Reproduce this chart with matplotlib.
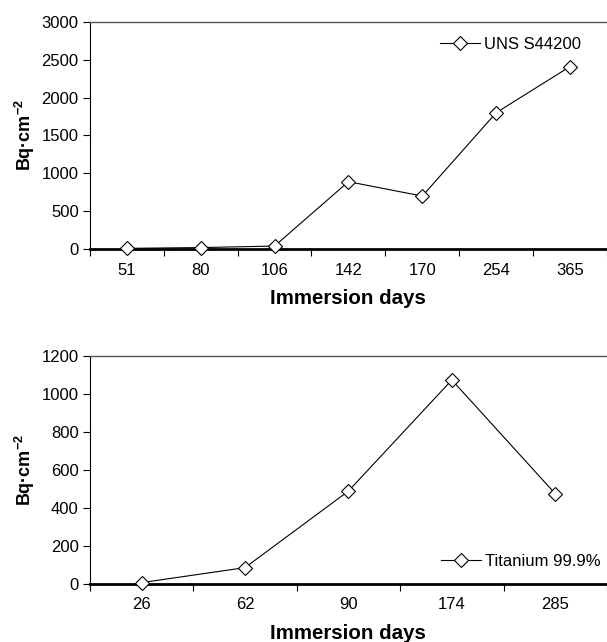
import numpy as np
import matplotlib
matplotlib.use("Agg")
import matplotlib.pyplot as plt

plt.rcParams['font.family'] = ['Liberation Sans', 'DejaVu Sans']
plt.rcParams['mathtext.fontset'] = 'custom'
plt.rcParams['mathtext.rm'] = 'Liberation Sans:bold'
plt.rcParams['mathtext.it'] = 'Liberation Sans:bold'
plt.rcParams['mathtext.bf'] = 'Liberation Sans:bold'

# data
days_steel = ["51", "80", "106", "142", "170", "254", "365"]
bq_steel = [10, 20, 40, 890, 700, 1800, 2410]
days_ti = ["26", "62", "90", "174", "285"]
bq_ti = [5, 84, 487, 1072, 473]


def draw_panel(ax, cats, vals, label, ymax, ystep, legend_loc, anchor):
    x = np.arange(len(cats))
    ax.plot(x, vals, color='black', linewidth=0.8, marker='D', markersize=7,
            markerfacecolor='white', markeredgecolor='black', markeredgewidth=0.8,
            label=label, clip_on=False, zorder=3)
    ax.set_xlim(-0.5, len(cats) - 0.5)
    ax.set_ylim(0, ymax)
    ax.set_yticks(np.arange(0, ymax + 1, ystep))
    ax.set_xticks(x)
    ax.set_xticklabels(cats)
    ax.set_xticks(np.arange(len(cats) + 1) - 0.5, minor=True)
    ax.tick_params(axis='x', which='major', length=0, pad=10, labelsize=12)
    ax.tick_params(axis='x', which='minor', length=5, width=0.8, direction='out')
    ax.tick_params(axis='y', length=5, width=0.8, direction='out', pad=3, labelsize=12)
    ax.spines['right'].set_visible(False)
    ax.spines['top'].set_color('#555555')
    ax.spines['top'].set_linewidth(1.0)
    ax.spines['left'].set_linewidth(0.8)
    ax.spines['bottom'].set_linewidth(2.0)
    ax.set_xlabel("Immersion days", fontsize=14.8, fontweight='bold', labelpad=8)
    ax.set_ylabel("Bq·cm$^{-2}$", fontsize=13, fontweight='bold', labelpad=3)
    ax.legend(loc=legend_loc, frameon=False, fontsize=12, handlelength=2.4,
              handletextpad=0.2, borderaxespad=0.5, bbox_to_anchor=anchor)


fig = plt.figure(figsize=(6.07, 6.42), dpi=100)
ax1 = fig.add_axes([0.148, 0.612, 0.852, 0.354])
ax2 = fig.add_axes([0.148, 0.091, 0.852, 0.355])

draw_panel(ax1, days_steel, bq_steel, "UNS S44200", 3000, 500, 'upper right', (0.978, 1.0))
draw_panel(ax2, days_ti, bq_ti, "Titanium 99.9%", 1200, 200, 'lower right', (1.016, 0.0))

fig.savefig("out.png", dpi=100)
